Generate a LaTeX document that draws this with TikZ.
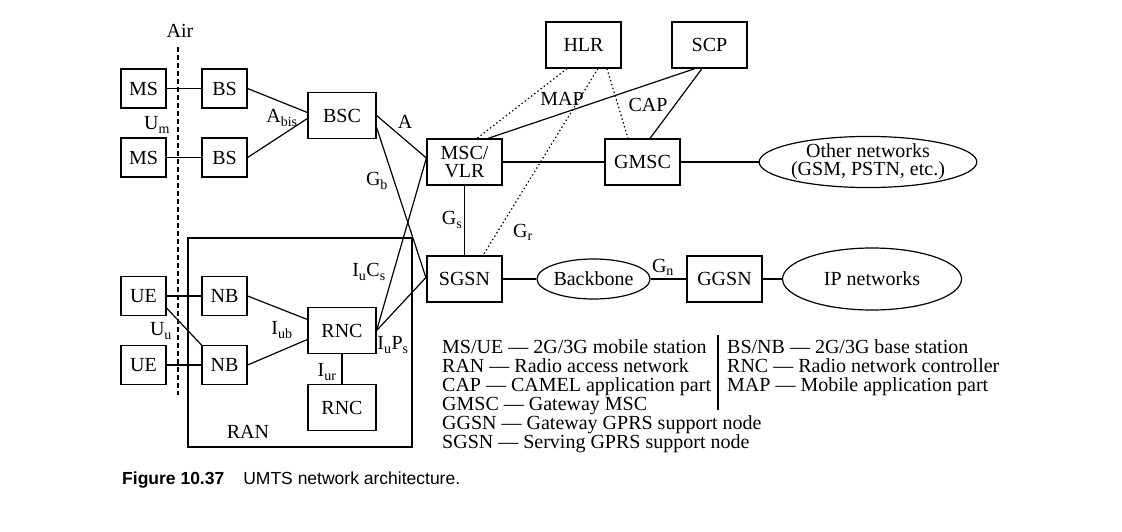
\documentclass[tikz,border=0pt]{standalone}
\usepackage{fontspec}
\setmainfont{Liberation Serif}
\newfontfamily\capfont{Liberation Sans}
\usetikzlibrary{shapes.geometric,calc}
\begin{document}
\begin{tikzpicture}[x=1pt,y=-1pt,
  every node/.style={font=\fontsize{20}{18}\selectfont, inner sep=0pt},
  sbox/.style={draw, line width=1.2pt, minimum width=45pt, minimum height=39pt},
  mbox/.style={draw, line width=1.2pt, minimum width=68pt, minimum height=46pt},
  lbox/.style={draw, line width=1.2pt, minimum width=75pt, minimum height=46pt, align=center},
  oval/.style={draw, ellipse, line width=1.2pt, inner sep=0pt, align=center},
  link/.style={line width=1.2pt},
  dotlink/.style={line width=1.2pt, dash pattern=on 1.4pt off 2.6pt},
  airline/.style={line width=1.2pt, dash pattern=on 5pt off 3pt},
  leg/.style={anchor=base west},
]
\useasboundingbox (0,0) rectangle (1122,532);

% RAN frame
\node[draw, line width=1.2pt, minimum width=224pt, minimum height=209pt] (ran) at (300,342.5) {};
\node (ranlbl) at (248,432) {RAN};

% boxes
\node[sbox] (MS1) at (143.5,88.5) {MS};
\node[sbox] (MS2) at (143.5,157.5) {MS};
\node[sbox] (BS1) at (224.5,88.5) {BS};
\node[sbox] (BS2) at (224.5,157.5) {BS};
\node[mbox] (BSC) at (342,115.5) {BSC};
\node[sbox] (UE1) at (143.5,296) {UE};
\node[sbox] (UE2) at (143.5,365) {UE};
\node[sbox] (NB1) at (224.5,296) {NB};
\node[sbox] (NB2) at (224.5,365) {NB};
\node[mbox] (RNC1) at (342,330.5) {RNC};
\node[mbox] (RNC2) at (342,407.5) {RNC};
\node[lbox] (HLR) at (583.5,45) {HLR};
\node[lbox] (SCP) at (709.5,45) {SCP};
\node[lbox] (MSC) at (464.5,162) {MSC/\\VLR};
\node[lbox] (GMSC) at (642.5,162) {GMSC};
\node[lbox] (SGSN) at (464.5,279) {SGSN};
\node[lbox] (GGSN) at (724.5,279) {GGSN};
\node[oval, minimum width=184pt, minimum height=48pt] (other) at (868,162) {Other networks\\(GSM, PSTN, etc.)};
\node[oval, minimum width=97pt, minimum height=40pt] (bb) at (593.5,279) {Backbone};
\node[oval, minimum width=179pt, minimum height=62pt] (ip) at (872,279) {IP networks};

% air interface
\node (air) at (180,31) {Air};
\coordinate (airtop) at (178,47);
\coordinate (airbot) at (178,395);
\draw[airline] (airtop) -- (airbot);

% connectors
\draw[link] (MS1.east) -- (BS1.west);
\draw[link] (MS2.east) -- (BS2.west);
\draw[link] (BS1.east) -- ($(BSC.west)+(0,-3)$);
\draw[link] (BS2.east) -- ($(BSC.west)+(0,3)$);
\draw[link] (BSC.east) -- ($(MSC.west)+(0,-4)$);
\draw[link] ($(BSC.east)+(0,12)$) -- (SGSN.west);
\draw[link] (RNC1.east) -- ($(MSC.west)+(0,-4)$);
\draw[link] (RNC1.east) -- ($(SGSN.west)+(0,-2)$);
\draw[link] (UE1.east) -- (NB1.west);
\draw[link] (UE2.east) -- (NB2.west);
\draw[link] ($(UE1.south east)+(0,-8)$) -- (NB2.north west);
\draw[link] (NB1.east) -- ($(RNC1.west)+(0,-11)$);
\draw[link] (NB2.east) -- ($(RNC1.west)+(0,9)$);
\draw[link] (RNC1.south) -- (RNC2.north);
\draw[link] (MSC.south) -- (SGSN.north);
\draw[link] (MSC.east) -- (GMSC.west);
\draw[link] (GMSC.east) -- (other.west);
\draw[link] (SGSN.east) -- (bb.west);
\draw[link] (bb.east) -- (GGSN.west);
\draw[link] (GGSN.east) -- (ip.west);
\draw[dotlink] ($(HLR.south)+(-16.5,0)$) -- ($(MSC.north)+(12.5,0)$);
\draw[dotlink] ($(HLR.south)+(14.5,0)$) -- ($(SGSN.north)+(18.5,0)$);
\draw[dotlink] ($(HLR.south)+(23.5,0)$) -- ($(GMSC.north)+(-14.5,0)$);
\draw[link] ($(SCP.south)+(-14.5,0)$) -- ($(MSC.north)+(23.5,0)$);
\draw[link] ($(SCP.south)+(-7.5,0)$) -- ($(GMSC.north)+(7.5,0)$);

% interface labels
\node (Um) at (157,125) {U\textsubscript{m}};
\node (Abis) at (282,118) {A\textsubscript{bis}};
\node (Alb) at (405,122) {A};
\node (Gb) at (377,181) {G\textsubscript{b}};
\node (MAP) at (562,99) {MAP};
\node (CAP) at (648,105) {CAP};
\node (Gs) at (452,220) {G\textsubscript{s}};
\node (Gr) at (523,232) {G\textsubscript{r}};
\node (Gn) at (663,267) {G\textsubscript{n}};
\node (IuCs) at (369,272) {I\textsubscript{u}C\textsubscript{s}};
\node (IuPs) at (393,345) {I\textsubscript{u}P\textsubscript{s}};
\node (Iub) at (282,330) {I\textsubscript{ub}};
\node (Iur) at (327,372) {I\textsubscript{ur}};
\node (Uu) at (161,331) {U\textsubscript{u}};

% legend
\node[leg] (l1) at (442,353) {MS/UE — 2G/3G mobile station};
\node[leg] (l2) at (442,372) {RAN — Radio access network};
\node[leg] (l3) at (442,391) {CAP — CAMEL application part};
\node[leg] (l4) at (442,410) {GMSC — Gateway MSC};
\node[leg] (l5) at (442,429) {GGSN — Gateway GPRS support node};
\node[leg] (l6) at (442,448) {SGSN — Serving GPRS support node};
\node[leg] (r1) at (727,353) {BS/NB — 2G/3G base station};
\node[leg] (r2) at (727,372) {RNC — Radio network controller};
\node[leg] (r3) at (727,391) {MAP — Mobile application part};
\coordinate (bartop) at (718,335);
\coordinate (barbot) at (718,410);
\draw[link] (bartop) -- (barbot);

% caption
\node[anchor=base west, font=\capfont\fontsize{17.5}{20}\selectfont] (cap) at (122,484) {\textbf{Figure 10.37}\hspace{19pt}UMTS network architecture.};
\end{tikzpicture}
\end{document}
